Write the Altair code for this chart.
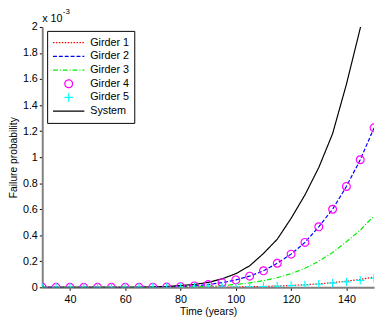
import altair as alt
import pandas as pd

years = [30, 35, 40, 45, 50, 55, 60, 65, 70, 75, 80, 85, 90, 95, 100,
         105, 110, 115, 120, 125, 130, 135, 140, 145, 150]

# values in units of 1e-3
girder1 = [0, 0, 0, 0, 0, 0, 0, 0, 0, 0.0001, 0.0003, 0.0006, 0.001, 0.0018, 0.003,
           0.0045, 0.0068, 0.01, 0.0145, 0.02, 0.027, 0.036, 0.047, 0.061, 0.079]
girder2 = [0, 0, 0, 0, 0, 0, 0, 0, 0.001, 0.002, 0.005, 0.011, 0.021, 0.036, 0.057,
           0.086, 0.127, 0.185, 0.255, 0.345, 0.465, 0.60, 0.775, 0.98, 1.225]
girder3 = [0, 0, 0, 0, 0, 0, 0, 0, 0.0005, 0.001, 0.002, 0.004, 0.008, 0.014, 0.022,
           0.034, 0.051, 0.074, 0.105, 0.146, 0.2, 0.268, 0.35, 0.44, 0.55]
girder4 = [0, 0, 0, 0, 0, 0, 0, 0, 0.001, 0.002, 0.005, 0.011, 0.021, 0.036, 0.057,
           0.086, 0.127, 0.185, 0.255, 0.345, 0.465, 0.60, 0.775, 0.98, 1.225]
girder5 = [0, 0, 0, 0, 0, 0, 0, 0, 0, 0.0001, 0.0003, 0.0005, 0.0009, 0.0016, 0.0026,
           0.004, 0.006, 0.009, 0.013, 0.018, 0.024, 0.032, 0.042, 0.054, 0.07]
system = [0, 0, 0, 0, 0, 0, 0, 0.001, 0.003, 0.007, 0.014, 0.022, 0.038, 0.065, 0.105,
          0.165, 0.26, 0.37, 0.53, 0.71, 0.92, 1.18, 1.56, 1.99, 2.5]

series_names = ["Girder 1", "Girder 2", "Girder 3", "Girder 4", "Girder 5", "System"]
series_colors = ["#ff0000", "#0000ff", "#00ee00", "#ff00ff", "#00ffff", "#000000"]
line_series = ["Girder 1", "Girder 2", "Girder 3", "System"]
marker_series = ["Girder 4", "Girder 5"]

x_ticks = [40, 60, 80, 100, 120, 140]
y_ticks = [0, 0.2, 0.4, 0.6, 0.8, 1, 1.2, 1.4, 1.6, 1.8, 2]
exp_base = ["x 10"]
exp_power = ["-3"]

rows = []
for name, vals in zip(series_names, [girder1, girder2, girder3, girder4, girder5, system]):
    for yr, v in zip(years, vals):
        rows.append({"year": yr, "value": v, "series": name})
df = pd.DataFrame(rows)

FONT = "Liberation Sans"

LINE_PATH = "M-1,0H1"
CIRCLE_PATH = "M-0.25,0A0.25,0.25,0,1,1,0.25,0A0.25,0.25,0,1,1,-0.25,0Z"
CROSS_PATH = "M-0.27,0H0.27M0,-0.27V0.27"

legend = alt.Legend(
    title=None, orient="none", legendX=5, legendY=4,
    strokeColor="black", fillColor="white", padding=5,
    symbolSize=1024, clipHeight=14, rowPadding=0,
    labelFont=FONT, labelFontSize=11, labelOffset=5, labelColor="black",
    symbolStrokeWidth=1.2, symbolFillColor="transparent",
)

color_scale = alt.Scale(domain=series_names, range=series_colors)
dash_scale = alt.Scale(domain=series_names,
                       range=[[1.5, 1.5], [4, 2], [5, 2, 1, 2], [1, 0], [1, 0], [1, 0]])
shape_scale = alt.Scale(domain=series_names,
                        range=[LINE_PATH, LINE_PATH, LINE_PATH, CIRCLE_PATH, CROSS_PATH, LINE_PATH])

x_enc = alt.X("year:Q", scale=alt.Scale(domain=[30, 150], nice=False),
              axis=alt.Axis(values=x_ticks, title="Time (years)", grid=False,
                            labelPadding=3, titlePadding=3))
y_enc = alt.Y("value:Q", scale=alt.Scale(domain=[0, 2], nice=False),
              axis=alt.Axis(values=y_ticks, format="~g", title="Failure probability",
                            grid=False, titlePadding=4))

base = alt.Chart(df)

lines = base.transform_filter(
    alt.FieldOneOfPredicate(field="series", oneOf=line_series)
).mark_line(clip=True, strokeWidth=1.2).encode(
    x=x_enc, y=y_enc,
    color=alt.Color("series:N", scale=color_scale, legend=legend),
    strokeDash=alt.StrokeDash("series:N", scale=dash_scale, legend=legend),
    detail="series:N",
)

points = base.transform_filter(
    alt.FieldOneOfPredicate(field="series", oneOf=marker_series)
).mark_point(filled=False, size=1024, strokeWidth=1.2, clip=True, opacity=1).encode(
    x=x_enc, y=y_enc,
    color=alt.Color("series:N", scale=color_scale, legend=legend),
    shape=alt.Shape("series:N", scale=shape_scale, legend=legend),
)

t1 = alt.Chart(pd.DataFrame({"t": exp_base})).mark_text(
    align="left", baseline="middle", font=FONT, fontSize=11, color="black"
).encode(x=alt.value(0), y=alt.value(-8), text="t:N")
t2 = alt.Chart(pd.DataFrame({"t": exp_power})).mark_text(
    align="left", baseline="middle", font=FONT, fontSize=8, color="black"
).encode(x=alt.value(21), y=alt.value(-15), text="t:N")

chart = alt.layer(lines, points, t1, t2).resolve_scale(
    color="shared"
).properties(
    width=339, height=266,
    autosize=alt.AutoSizeParams(type="none"),
    padding={"left": 35, "top": 16, "right": 3, "bottom": 31},
).configure_view(stroke=None).configure_axis(
    labelFont=FONT, labelFontSize=11, labelColor="black",
    titleFont=FONT, titleFontSize=10.5, titleFontWeight="normal", titleColor="black",
    domainColor="#808080", domainWidth=2, tickColor="black", tickSize=3,
    labelPadding=2,
)

chart.save("out.html", embed_options={"renderer": "svg", "actions": False})
